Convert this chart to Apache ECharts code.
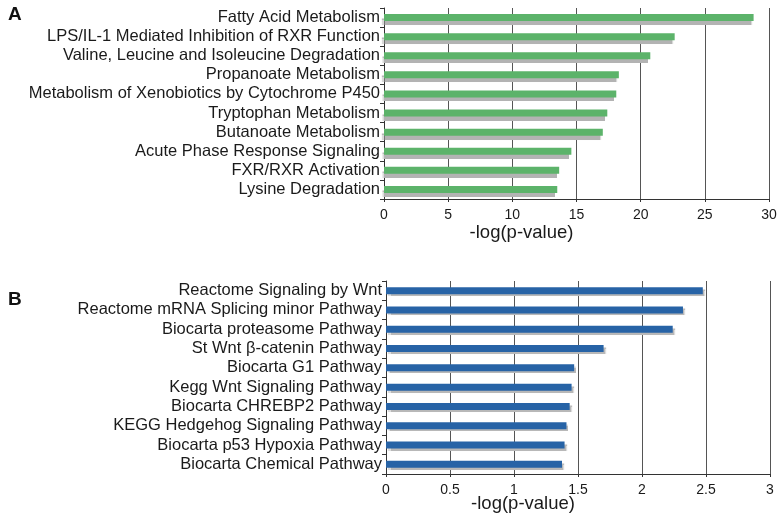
<!DOCTYPE html>
<html>
<head>
<meta charset="utf-8">
<script src="https://cdn.jsdelivr.net/npm/echarts@6/dist/echarts.min.js"></script>
<style>html,body{margin:0;padding:0;background:#fff}#c{width:780px;height:520px}</style>
</head>
<body>
<div id="c"></div>
<script>
const categoriesA = [
  "Fatty Acid Metabolism",
  "LPS/IL-1 Mediated Inhibition of RXR Function",
  "Valine, Leucine and Isoleucine Degradation",
  "Propanoate Metabolism",
  "Metabolism of Xenobiotics by Cytochrome P450",
  "Tryptophan Metabolism",
  "Butanoate Metabolism",
  "Acute Phase Response Signaling",
  "FXR/RXR Activation",
  "Lysine Degradation"
];
const valuesA = [28.8, 22.65, 20.75, 18.3, 18.1, 17.4, 17.05, 14.6, 13.65, 13.5];
const ticksA = [0, 5, 10, 15, 20, 25, 30];

const categoriesB = [
  "Reactome Signaling by Wnt",
  "Reactome mRNA Splicing minor Pathway",
  "Biocarta proteasome Pathway",
  "St Wnt \u03b2-catenin Pathway",
  "Biocarta G1 Pathway",
  "Kegg Wnt Signaling Pathway",
  "Biocarta CHREBP2 Pathway",
  "KEGG Hedgehog Signaling Pathway",
  "Biocarta p53 Hypoxia Pathway",
  "Biocarta Chemical Pathway"
];
const valuesB = [2.475, 2.32, 2.24, 1.70, 1.47, 1.45, 1.435, 1.41, 1.395, 1.375];
const ticksB = [0, 0.5, 1, 1.5, 2, 2.5, 3];

const axisName = "-log(p-value)";
const FONT = "Liberation Sans, Arial, Helvetica, sans-serif";

const chart = echarts.init(document.getElementById('c'), null, {renderer: 'canvas'});

function xAx(gridIndex, ticks, gap) {
  return {
    type: 'value', gridIndex: gridIndex,
    min: ticks[0], max: ticks[ticks.length - 1], interval: ticks[1] - ticks[0],
    name: axisName, nameLocation: 'middle', nameGap: gap, nameMoveOverlap: false,
    nameTextStyle: {fontSize: 18.5, color: '#1a1a1a', fontFamily: FONT, padding: [0, 110, 0, 0]},
    axisLine: {show: true, lineStyle: {color: '#333', width: 1}},
    axisTick: {show: true, length: 3, lineStyle: {color: '#333'}},
    axisLabel: {fontSize: 14, color: '#1a1a1a', fontFamily: FONT, margin: 9},
    splitLine: {show: true, lineStyle: {color: '#555', width: 1}}
  };
}
function yAx(gridIndex, cats) {
  return {
    type: 'category', gridIndex: gridIndex, data: cats, inverse: true,
    axisLine: {show: true, lineStyle: {color: '#333', width: 1}},
    axisTick: {show: true, length: 4, alignWithLabel: false, lineStyle: {color: '#333'}},
    axisLabel: {interval: 0, fontSize: 16.5, color: '#1a1a1a', fontFamily: FONT, margin: 4},
    splitLine: {show: false}
  };
}

chart.setOption({
  animation: false,
  backgroundColor: '#fff',
  textStyle: {fontFamily: FONT},
  graphic: [
    {type: 'text', left: 8, top: 5, style: {text: 'A', font: 'bold 19px ' + FONT, fill: '#111'}},
    {type: 'text', left: 8, top: 290, style: {text: 'B', font: 'bold 19px ' + FONT, fill: '#111'}}
  ],
  grid: [
    {left: 384, right: 11, top: 8, height: 191, containLabel: false},
    {left: 386, right: 10, top: 281, height: 193, containLabel: false}
  ],
  xAxis: [xAx(0, ticksA, 24), xAx(1, ticksB, 20)],
  yAxis: [yAx(0, categoriesA), yAx(1, categoriesB)],
  series: [
    {
      type: 'bar', xAxisIndex: 0, yAxisIndex: 0, data: valuesA, barWidth: 7,
      itemStyle: {color: '#5cb36a', shadowColor: '#b3b3b3', shadowBlur: 1, shadowOffsetX: -2, shadowOffsetY: 4}
    },
    {
      type: 'bar', xAxisIndex: 1, yAxisIndex: 1, data: valuesB, barWidth: 7,
      itemStyle: {color: '#2763a6', shadowColor: '#b8b8b8', shadowBlur: 1, shadowOffsetX: 2, shadowOffsetY: 2}
    }
  ]
});
</script>
</body>
</html>
